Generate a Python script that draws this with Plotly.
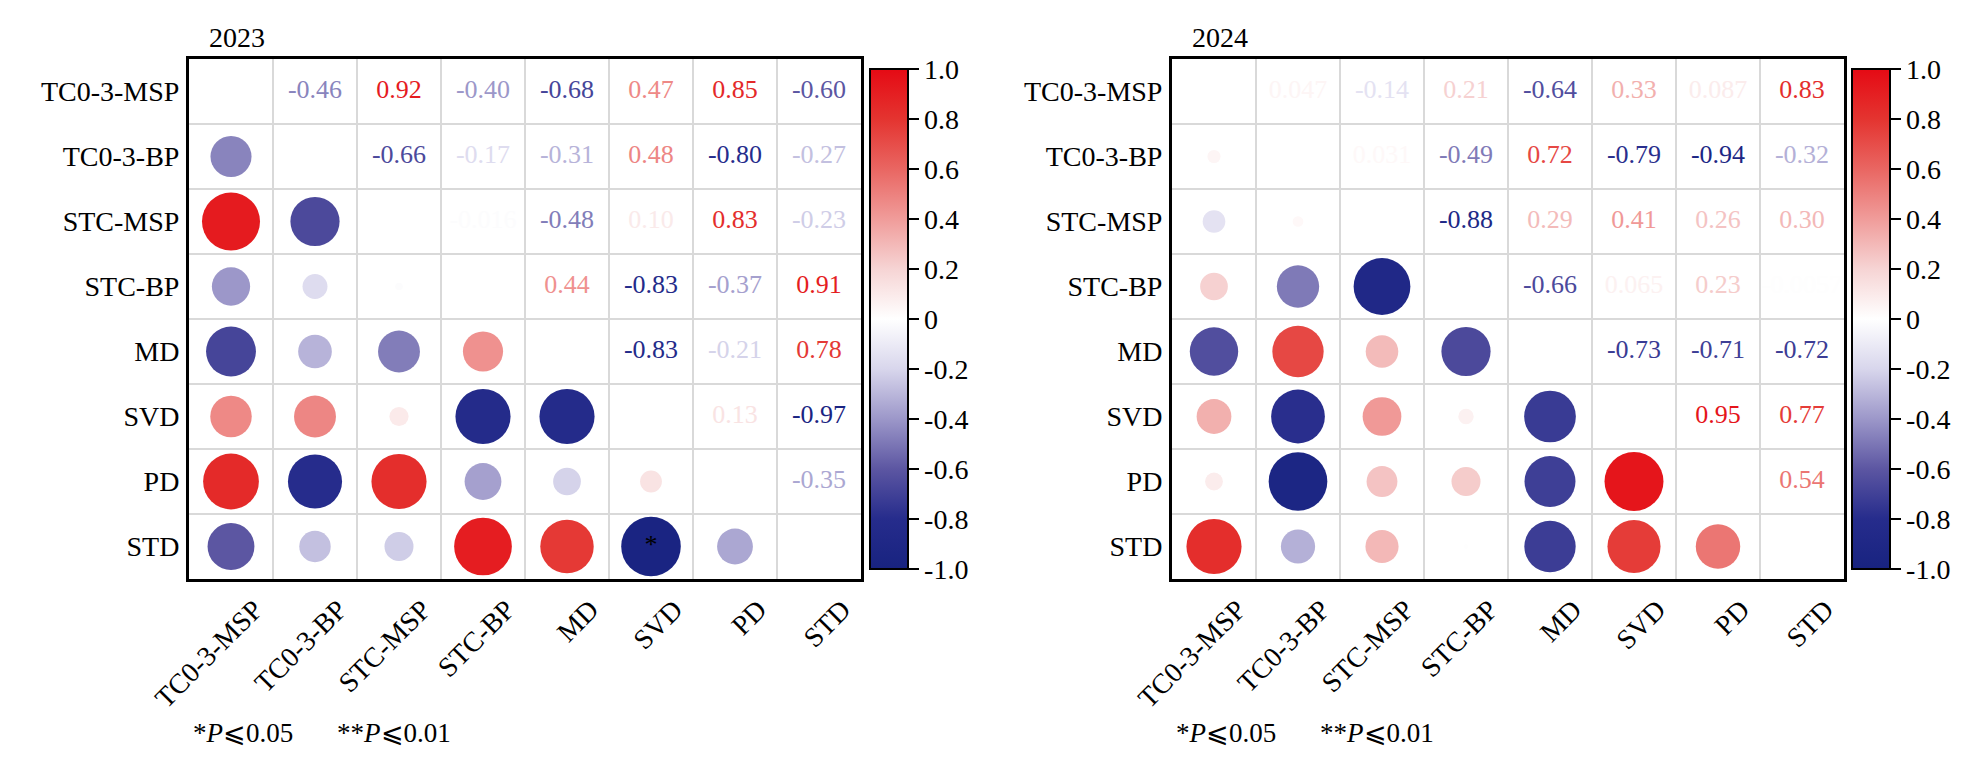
import numpy as np
import plotly.graph_objects as go
from plotly.colors import sample_colorscale

labels = ['TC0-3-MSP', 'TC0-3-BP', 'STC-MSP', 'STC-BP', 'MD', 'SVD', 'PD', 'STD']

# upper triangle of each correlation matrix, row by row
r2023 = [
    [-0.46, 0.92, -0.40, -0.68, 0.47, 0.85, -0.60],
    [-0.66, -0.17, -0.31, 0.48, -0.80, -0.27],
    [-0.016, -0.48, 0.10, 0.83, -0.23],
    [0.44, -0.83, -0.37, 0.91],
    [-0.83, -0.21, 0.78],
    [0.13, -0.97],
    [-0.35],
]
r2024 = [
    [0.047, -0.14, 0.21, -0.64, 0.33, 0.087, 0.83],
    [0.031, -0.49, 0.72, -0.79, -0.94, -0.32],
    [-0.88, 0.29, 0.41, 0.26, 0.30],
    [-0.66, 0.065, 0.23, -0.0057],
    [-0.73, -0.71, -0.72],
    [0.95, 0.77],
    [0.54],
]
# significance marks (row, col) -> symbol
sig2023 = {('STD', 'SVD'): '*'}
sig2024 = {}

titles = ['2023', '2024']

cscale = [
    [0.0, 'rgb(24,35,128)'],
    [0.1, 'rgb(38,44,140)'],
    [0.2, 'rgb(92,86,162)'],
    [0.3, 'rgb(156,151,201)'],
    [0.4, 'rgb(216,214,236)'],
    [0.5, 'rgb(255,255,255)'],
    [0.6, 'rgb(246,212,212)'],
    [0.7, 'rgb(240,156,154)'],
    [0.8, 'rgb(233,102,98)'],
    [0.9, 'rgb(228,52,48)'],
    [1.0, 'rgb(229,10,20)'],
]

FONT = 'Liberation Serif'
W, H = 1986, 777
OFF = 8  # page body margin


def px_x(v):
    return (v - OFF) / W


def px_y(v):
    return (H - (v - OFF)) / H


def fmt(v):
    if abs(v) >= 0.1:
        return f'{v:.2f}'
    return f'{v:.2g}'


def full_matrix(upper):
    n = len(labels)
    m = np.eye(n)
    for i, row in enumerate(upper):
        for k, v in enumerate(row):
            j = i + 1 + k
            m[i, j] = v
            m[j, i] = v
    return m


fig = go.Figure()

panels = [
    dict(data=r2023, sig=sig2023, x0=189, cbx=870, ca='coloraxis'),
    dict(data=r2024, sig=sig2024, x0=1172, cbx=1852, ca='coloraxis2'),
]

for p, panel in enumerate(panels):
    m = full_matrix(panel['data'])
    n = len(labels)
    xa = 'x' if p == 0 else 'x2'
    ya = 'y' if p == 0 else 'y2'

    # lower triangle: circles, area ~ |r|
    cx, cy, cv = [], [], []
    for i in range(n):
        for j in range(i):
            cx.append(j); cy.append(i); cv.append(m[i, j])
    cv = np.array(cv)
    fig.add_trace(go.Scatter(
        x=cx, y=cy, mode='markers', xaxis=xa, yaxis=ya, showlegend=False,
        marker=dict(size=60.5 * np.sqrt(np.abs(cv)), color=cv, coloraxis=panel['ca'],
                    line=dict(width=0), opacity=1),
        hoverinfo='skip'))

    # upper triangle: values as coloured text
    tx, ty, tt, tv = [], [], [], []
    for i in range(n):
        for j in range(i + 1, n):
            tx.append(j); ty.append(i); tt.append(fmt(m[i, j])); tv.append(m[i, j])
    tcol = sample_colorscale(cscale, [(v + 1) / 2 for v in tv])
    fig.add_trace(go.Scatter(
        x=tx, y=ty, mode='text', text=tt, xaxis=xa, yaxis=ya, showlegend=False,
        textfont=dict(family=FONT, size=26, color=tcol), hoverinfo='skip'))

    # significance stars
    if panel['sig']:
        sx = [labels.index(c) for (r, c) in panel['sig']]
        sy = [labels.index(r) for (r, c) in panel['sig']]
        st = list(panel['sig'].values())
        fig.add_trace(go.Scatter(
            x=sx, y=sy, mode='text', text=st, xaxis=xa, yaxis=ya, showlegend=False,
            textfont=dict(family=FONT, size=26, color='black'), hoverinfo='skip'))

    x0 = panel['x0']
    x1 = x0 + 672
    axis_common = dict(
        tickmode='array', ticktext=labels,
        showgrid=False, zeroline=False, showline=True, mirror=True,
        linecolor='black', linewidth=3, ticks='',
        tickfont=dict(family=FONT, size=28, color='black'),
        minor=dict(tick0=0.5, dtick=1, showgrid=True, gridcolor='#D9D9D9', gridwidth=1.5, ticks=''),
    )
    # rotated labels end a little right of the column centre, like the original
    xaxis = dict(axis_common, tickvals=[i + 0.28 for i in range(n)],
                 domain=[px_x(x0), px_x(x1)], range=[-0.5, n - 0.5],
                 tickangle=-45, anchor=ya)
    yaxis = dict(axis_common, tickvals=list(range(n)),
                 domain=[px_y(579), px_y(59)], range=[n - 0.5, -0.5],
                 anchor=xa, ticklabelstandoff=1)
    if p == 0:
        fig.update_layout(xaxis=xaxis, yaxis=yaxis)
    else:
        fig.update_layout(xaxis2=xaxis, yaxis2=yaxis)

    cb = dict(
        x=px_x(panel['cbx']), xanchor='left', xpad=0,
        y=px_y(319), yanchor='middle', ypad=0,
        len=500, lenmode='pixels', thickness=38, thicknessmode='pixels',
        outlinewidth=2, outlinecolor='black',
        tickmode='array', tickvals=[1, 0.8, 0.6, 0.4, 0.2, 0, -0.2, -0.4, -0.6, -0.8, -1],
        ticktext=['1.0', '0.8', '0.6', '0.4', '0.2', '0', '-0.2', '-0.4', '-0.6', '-0.8', '-1.0'],
        ticks='outside', ticklen=10, tickwidth=2, tickcolor='black',
        tickfont=dict(family=FONT, size=28, color='black'),
    )
    fig.update_layout({panel['ca']: dict(colorscale=cscale, cmin=-1, cmax=1, colorbar=cb)})

    # panel title and footnote
    fig.add_annotation(text=titles[p], x=px_x(x0 + 18), y=px_y(37), xref='paper', yref='paper',
                       xanchor='left', yanchor='middle', showarrow=False,
                       font=dict(family=FONT, size=28, color='black'))
    fig.add_annotation(text='*<i>P</i>⩽0.05', x=px_x(x0 + 2), y=px_y(733), xref='paper', yref='paper',
                       xanchor='left', yanchor='middle', showarrow=False,
                       font=dict(family=FONT, size=27, color='black'))
    fig.add_annotation(text='**<i>P</i>⩽0.01', x=px_x(x0 + 146), y=px_y(733), xref='paper', yref='paper',
                       xanchor='left', yanchor='middle', showarrow=False,
                       font=dict(family=FONT, size=27, color='black'))

fig.update_layout(
    width=W, height=H, autosize=False,
    margin=dict(l=0, r=0, t=0, b=0, autoexpand=False),
    paper_bgcolor='white', plot_bgcolor='white',
    font=dict(family=FONT, color='black'),
)

fig.write_html("out.html")
